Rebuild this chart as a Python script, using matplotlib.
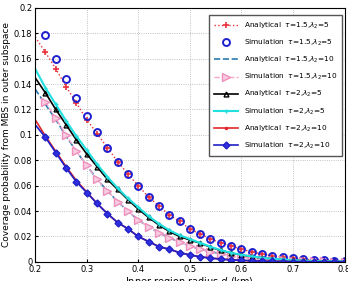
import numpy as np
import matplotlib.pyplot as plt

# inner region radius d (km)
d = np.round(np.arange(0.20, 0.801, 0.02), 2)

# tau=1.5, lambda2=5
ana_15_5 = [0.177, 0.165, 0.152, 0.138, 0.125, 0.112, 0.101, 0.090, 0.079, 0.069,
            0.060, 0.051, 0.044, 0.037, 0.032, 0.026, 0.022, 0.018, 0.015, 0.0125,
            0.010, 0.008, 0.0062, 0.0048, 0.0037, 0.0028, 0.0021, 0.0015, 0.0011, 0.0008, 0.0006]
sim_15_5 = [np.nan, 0.179, 0.160, 0.144, 0.129, 0.115, 0.102, 0.090, 0.079, 0.069,
            0.060, 0.051, 0.044, 0.037, 0.032, 0.026, 0.022, 0.018, 0.015, 0.0125,
            0.010, 0.008, 0.0062, 0.0048, 0.0037, 0.0028, 0.0021, 0.0015, 0.0011, 0.0008, 0.0006]

# tau=1.5, lambda2=10
ana_15_10 = [0.136, 0.124, 0.112, 0.099, 0.087, 0.076, 0.065, 0.056, 0.0475, 0.040,
             0.033, 0.0275, 0.023, 0.019, 0.0155, 0.0125, 0.010, 0.008, 0.0065, 0.005,
             0.004, 0.0031, 0.0024, 0.0018, 0.0014, 0.001, 0.0008, 0.0006, 0.0004, 0.0003, 0.0002]
sim_15_10 = [np.nan, 0.126, 0.113, 0.100, 0.087, 0.076, 0.065, 0.056, 0.0475, 0.040,
             0.033, 0.0275, 0.023, 0.019, 0.0155, 0.0125, 0.010, 0.008, 0.0065, 0.005,
             0.004, 0.0031, 0.0024, 0.0018, 0.0014, 0.001, 0.0008, 0.0006, 0.0004, 0.0003, 0.0002]

# tau=2, lambda2=5
ana_2_5 = [0.145, 0.133, 0.120, 0.108, 0.096, 0.085, 0.075, 0.065, 0.057, 0.049,
           0.0415, 0.035, 0.029, 0.024, 0.020, 0.0173, 0.0147, 0.0116, 0.009, 0.007,
           0.0055, 0.0042, 0.0032, 0.0024, 0.0018, 0.0013, 0.001, 0.0007, 0.0005, 0.0004, 0.0003]
sim_2_5 = [0.152, 0.137, 0.124, 0.111, 0.099, 0.088, 0.077, 0.067, 0.058, 0.050,
           0.043, 0.036, 0.030, 0.025, 0.021, 0.018, 0.015, 0.012, 0.0093, 0.0072,
           0.0056, 0.0043, 0.0033, 0.0025, 0.0019, 0.0014, 0.001, 0.0007, 0.0005, 0.0004, 0.0003]

# tau=2, lambda2=10
ana_2_10 = [0.112, 0.099, 0.087, 0.075, 0.064, 0.055, 0.046, 0.038, 0.031, 0.026,
            0.020, 0.016, 0.012, 0.010, 0.0073, 0.0055, 0.004, 0.003, 0.0022, 0.0016,
            0.0012, 0.0009, 0.0006, 0.0004, 0.0003, 0.0002, 0.0002, 0.0001, 0.0001, 0.0001, 0.0001]
sim_2_10 = [0.108, 0.098, 0.086, 0.074, 0.063, 0.0546, 0.046, 0.038, 0.031, 0.026,
            0.020, 0.016, 0.012, 0.010, 0.0073, 0.0055, 0.004, 0.003, 0.0022, 0.0016,
            0.0012, 0.0009, 0.0006, 0.0004, 0.0003, 0.0002, 0.0002, 0.0001, 0.0001, 0.0001, 0.0001]

plt.rcParams['font.family'] = 'DejaVu Sans'
fig = plt.figure(figsize=(3.48, 2.81), dpi=100)
ax = fig.add_axes([0.101, 0.068, 0.889, 0.904])

mk = slice(1, None)
ax.plot(d, ana_15_5, ':', color='#e8323c', lw=1, marker='+', ms=4.5, mew=1.2,
        markevery=mk, label=r'Analytical  $\tau$=1.5,$\lambda_2$=5')
ax.plot(d, sim_15_5, 'o', color='#1f1fd0', ms=5, mfc='none', mew=1.4,
        label=r'Simulation  $\tau$=1.5,$\lambda_2$=5')
ax.plot(d, ana_15_10, '--', color='#2a7ab0', lw=1.2,
        label=r'Analytical  $\tau$=1.5,$\lambda_2$=10')
ax.plot(d, sim_15_10, '--', color='#f4a6c8', lw=1, marker='>', ms=5.5, mfc='#f7cde0',
        mec='#ee8fbd', markevery=mk, label=r'Simulation  $\tau$=1.5,$\lambda_2$=10')
ax.plot(d, ana_2_5, '-', color='black', lw=1.2, marker='^', ms=3.5, mfc='none',
        markevery=mk, label=r'Analytical  $\tau$=2,$\lambda_2$=5')
ax.plot(d, sim_2_5, '-', color='#22e0e0', lw=1.5, marker='+', ms=3,
        markevery=mk, label=r'Simulation  $\tau$=2,$\lambda_2$=5')
ax.plot(d, ana_2_10, '-', color='#e0262a', lw=1.2, marker='.', ms=3,
        markevery=mk, label=r'Analytical  $\tau$=2,$\lambda_2$=10')
ax.plot(d, sim_2_10, '-', color='#2020c8', lw=1.2, marker='D', ms=3.5, mfc='#3030e0',
        markevery=mk, label=r'Simulation  $\tau$=2,$\lambda_2$=10')

ax.set_xlim(0.2, 0.8)
ax.set_ylim(0, 0.2)
ax.set_xticks(np.arange(0.2, 0.81, 0.1))
ax.set_yticks(np.arange(0, 0.201, 0.02))
ax.set_xticklabels(['0.2', '0.3', '0.4', '0.5', '0.6', '0.7', '0.8'])
ax.set_yticklabels(['0', '0.02', '0.04', '0.06', '0.08', '0.1', '0.12', '0.14',
                    '0.16', '0.18', '0.2'])
ax.tick_params(labelsize=6, length=2, direction='in', pad=2)
ax.grid(True, ls=':', color='#b0b0b0', lw=0.6)
ax.set_xlabel('Inner region radius $d$ (km)', fontsize=7, labelpad=1)
ax.set_ylabel('Coverage probability from MBS in outer subspace', fontsize=6.5, labelpad=2)

ax.legend(loc='upper right', bbox_to_anchor=(1.005, 0.985), fontsize=5.3,
          labelspacing=0.95, handlelength=3.2, borderpad=0.7, fancybox=False,
          edgecolor='#555555', framealpha=1)

fig.savefig('out.png', dpi=100)
